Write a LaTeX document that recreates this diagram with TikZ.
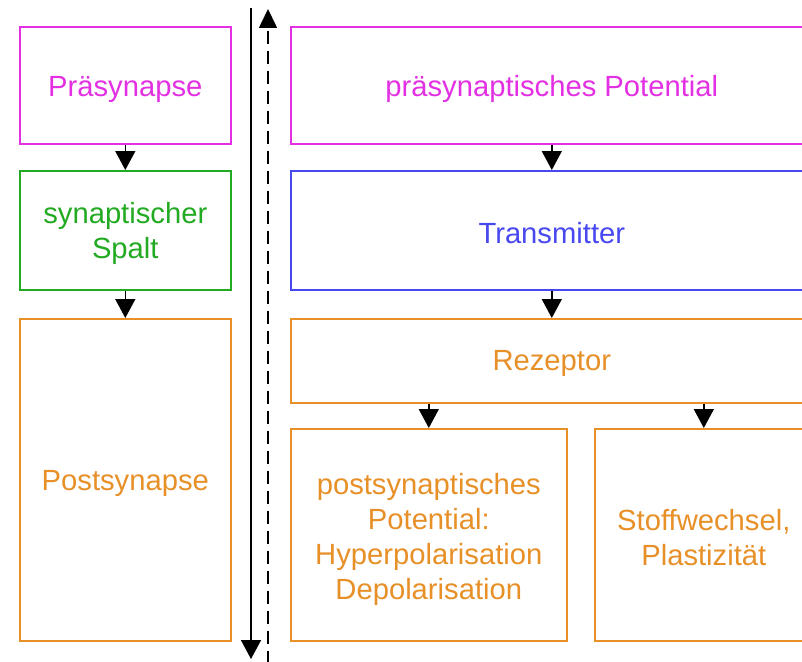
\documentclass[tikz,border=0pt]{standalone}
\usepackage{fontspec}
\setmainfont{Liberation Sans}
\usetikzlibrary{arrows.meta}
\definecolor{cmag}{RGB}{226,48,226}
\definecolor{cgreen}{RGB}{34,170,34}
\definecolor{cblue}{RGB}{72,72,240}
\definecolor{corange}{RGB}{232,144,40}
\begin{document}
\begin{tikzpicture}[x=1pt,y=1pt,
  box/.style={draw, line width=1.6pt, fill=white, anchor=north west, inner sep=0pt},
  txt/.style={align=center, inner sep=0pt, font=\fontsize{29.2}{35}\selectfont},
  conn/.style={line width=1.6pt, -{Triangle[length=19pt,width=20pt]}},
  ]
\clip (0,0) rectangle (802,-661);
\fill[white] (0,0) rectangle (802,-661);
% left column
\node[box, draw=cmag, minimum width=211, minimum height=117] (pre) at (19,-26) {};
\node[txt, text=cmag] (preT) at ([yshift=-4pt]pre.center) {Präsynapse};
\node[box, draw=cgreen, minimum width=211, minimum height=119] (spalt) at (19,-170) {};
\node[txt, text=cgreen] (spaltT) at ([yshift=-3pt]spalt.center) {synaptischer\\Spalt};
\node[box, draw=corange, minimum width=211, minimum height=322] (post) at (19,-318) {};
\node[txt, text=corange] (postT) at ([yshift=-4pt]post.center) {Postsynapse};
% right column
\node[box, draw=cmag, minimum width=522, minimum height=117] (prepot) at (290,-26) {};
\node[txt, text=cmag] (prepotT) at ([yshift=-4pt]prepot.center) {präsynaptisches Potential};
\node[box, draw=cblue, minimum width=522, minimum height=119] (trans) at (290,-170) {};
\node[txt, text=cblue] (transT) at ([yshift=-3pt]trans.center) {Transmitter};
\node[box, draw=corange, minimum width=522, minimum height=84] (rez) at (290,-318) {};
\node[txt, text=corange] (rezT) at ([yshift=-3pt]rez.center) {Rezeptor};
\node[box, draw=corange, minimum width=276, minimum height=212] (pot) at (290,-428) {};
\node[txt, text=corange] (potT) at ([yshift=-5pt]pot.center) {postsynaptisches\\Potential:\\Hyperpolarisation\\Depolarisation};
\node[box, draw=corange, minimum width=218, minimum height=212] (stoff) at (594,-428) {};
\node[txt, text=corange] (stoffT) at ([yshift=-3pt]stoff.center) {Stoffwechsel,\\Plastizität};
% connectors
\draw[conn] (pre.south) -- (spalt.north);
\draw[conn] (spalt.south) -- (post.north);
\draw[conn] (prepot.south) -- (trans.north);
\draw[conn] (trans.south) -- (rez.north);
\draw[conn] (rez.south -| pot.north) -- (pot.north);
\draw[conn] (rez.south -| stoff.north) -- (stoff.north);
% time axes
\coordinate (s1) at (251,-8);
\coordinate (s2) at (251,-659);
\coordinate (d1) at (268,-664);
\coordinate (d2) at (268,-9);
\draw[conn] (s1) -- (s2);
\draw[line width=1.6pt, dash pattern=on 13pt off 7pt, -{Triangle[length=19pt,width=18pt]}] (d1) -- (d2);
\end{tikzpicture}
\end{document}
